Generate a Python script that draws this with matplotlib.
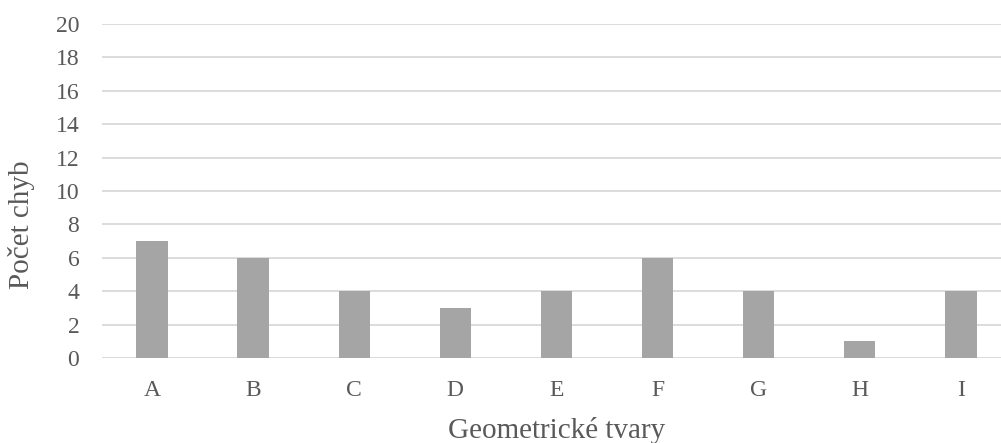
import matplotlib.pyplot as plt
import numpy as np

shapes = ['A', 'B', 'C', 'D', 'E', 'F', 'G', 'H', 'I']
errors = [7, 6, 4, 3, 4, 6, 4, 1, 4]
y_ticks = list(range(0, 21, 2))

plt.rcParams['font.family'] = ['Liberation Serif', 'DejaVu Serif']
text_color = '#595959'

fig = plt.figure(figsize=(10.01, 4.43), dpi=100)
ax = fig.add_axes([0.1014, 0.1919, 0.909, 0.7539])

x = np.arange(len(shapes))
ax.bar(x, errors, width=0.31, color='#A5A5A5', zorder=3)

ax.set_xlim(-0.5, len(shapes) - 0.5)
ax.set_ylim(0, 20)
ax.set_yticks(y_ticks)
ax.set_xticks(x)
ax.set_xticklabels(shapes)
ax.yaxis.grid(True, color='#D9D9D9', linewidth=1.3, zorder=0)
ax.tick_params(axis='both', length=0, labelsize=17, colors=text_color)
ax.tick_params(axis='x', pad=16)
ax.tick_params(axis='y', pad=16)
for spine in ax.spines.values():
    spine.set_visible(False)

# axis titles placed in figure pixels
W, H = fig.get_size_inches() * fig.dpi
fig.text(557 / W, 1 - 431 / H, 'Geometrické tvary', fontsize=21, color=text_color,
         ha='center', va='center')
fig.text(21.5 / W, 1 - 225 / H, 'Počet chyb', fontsize=21, color=text_color,
         ha='center', va='center', rotation=90)

fig.savefig('out.png', dpi=100)
